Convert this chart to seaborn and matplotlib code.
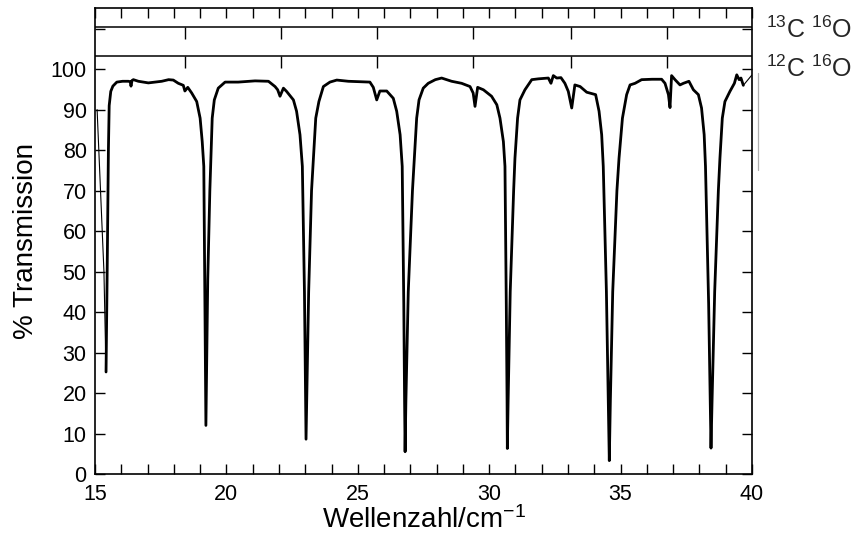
import matplotlib
matplotlib.use("Agg")
import matplotlib.pyplot as plt
import pandas as pd
import seaborn as sns
from matplotlib.ticker import MultipleLocator

# Rotational band of carbon monoxide, far-infrared transmission spectrum
wavenumber = [
    15.42, 15.46, 15.49, 15.51, 15.54, 15.60, 15.68, 15.83, 16.05, 16.27,
    16.34, 16.37, 16.41, 16.46, 16.65, 17.03, 17.30, 17.54, 17.80, 17.98,
    18.17, 18.36, 18.42, 18.53, 18.68, 18.87, 19.00, 19.08,
    19.14, 19.18, 19.21, 19.22, 19.24, 19.29, 19.37, 19.41,
    19.46, 19.54, 19.69, 19.95, 20.45, 21.09, 21.60, 21.85, 21.95, 22.04,
    22.17, 22.29, 22.55, 22.67, 22.80,
    22.89, 22.97, 23.01, 23.03, 23.06, 23.13, 23.24, 23.31,
    23.40, 23.52, 23.69, 23.94, 24.20, 24.64, 25.46, 25.59, 25.72, 25.84,
    26.10, 26.35, 26.48, 26.61,
    26.69, 26.75, 26.78, 26.80, 26.83, 26.92, 27.08, 27.15,
    27.24, 27.33, 27.49, 27.68, 27.95, 28.19, 28.57, 28.95, 29.27, 29.39,
    29.46, 29.56, 29.78, 30.09, 30.29, 30.41, 30.54,
    30.60, 30.65, 30.68, 30.69, 30.72, 30.80, 30.93, 30.98,
    31.08, 31.17, 31.36, 31.62, 31.87, 32.25, 32.35, 32.44, 32.57, 32.73,
    32.88, 33.01, 33.14, 33.26, 33.46, 33.71, 34.05, 34.18, 34.28,
    34.34, 34.46, 34.53, 34.57, 34.61, 34.70, 34.86, 34.94,
    35.07, 35.23, 35.36, 35.55, 35.80, 36.20, 36.56, 36.69, 36.82, 36.88,
    36.94, 37.07, 37.26, 37.39, 37.60, 37.77, 37.96, 38.08, 38.18,
    38.23, 38.35, 38.41, 38.44, 38.48, 38.58, 38.72, 38.78,
    38.87, 38.97, 39.16, 39.33, 39.42, 39.51, 39.58, 39.67,
]
transmission = [
    25.2, 48.0, 68.0, 80.0, 91.0, 94.5, 95.8, 96.8, 97.0, 97.0,
    96.9, 95.8, 97.2, 97.4, 97.0, 96.6, 96.8, 97.0, 97.4, 97.3,
    96.5, 96.0, 94.6, 95.5, 94.1, 92.0, 87.9, 82.1,
    76.0, 45.0, 20.0, 12.0, 22.0, 48.0, 70.0, 78.0,
    87.9, 92.4, 95.3, 96.8, 96.8, 97.1, 97.0, 95.7, 94.9, 93.3,
    95.3, 94.5, 92.4, 89.6, 83.8,
    76.0, 45.0, 20.0, 8.6, 20.0, 45.0, 70.0, 78.0,
    87.9, 92.0, 95.7, 96.8, 97.3, 97.0, 96.8, 95.5, 92.4, 94.6,
    94.6, 92.8, 89.6, 83.8,
    76.0, 42.0, 18.0, 5.5, 18.0, 45.0, 70.0, 78.0,
    87.9, 92.4, 95.3, 96.5, 97.4, 97.8, 97.0, 96.5, 95.7, 94.1,
    90.8, 95.5, 94.9, 93.3, 91.2, 87.9, 82.1,
    76.0, 42.0, 18.0, 6.3, 18.0, 45.0, 70.0, 78.0,
    87.9, 92.4, 94.9, 97.4, 97.6, 97.8, 96.5, 98.4, 97.8, 97.9,
    96.5, 94.5, 90.4, 96.1, 95.7, 94.3, 93.7, 89.6, 83.8,
    76.0, 45.0, 18.0, 3.3, 18.0, 45.0, 70.0, 78.0,
    87.9, 93.7, 96.1, 96.5, 97.4, 97.5, 97.5, 96.5, 93.7, 90.5,
    98.4, 97.4, 96.1, 96.5, 97.0, 94.9, 93.7, 90.4, 83.8,
    76.0, 42.0, 18.0, 6.4, 18.0, 45.0, 70.0, 78.0,
    87.9, 92.0, 94.5, 96.5, 98.6, 97.4, 97.8, 96.0,
]

# faint pen strokes at both ends of the trace
edge_wavenumber = [15.08, 15.34, 15.42]
edge_transmission = [90.0, 50.0, 25.2]
tail_wavenumber = [39.67, 39.99]
tail_transmission = [96.0, 98.5]

# line positions of 13C16O marked on the two reference rulers
marker_positions = [18.42, 22.08, 25.73, 29.38, 33.10, 36.77]
ruler_levels = [110.3, 103.2]
ruler_labels = [r"$\mathregular{^{13}C\ ^{16}O}$", r"$\mathregular{^{12}C\ ^{16}O}$"]
label_levels = [109.8, 100.2]

x_major = [15, 20, 25, 30, 35, 40]
y_ticks = [0, 10, 20, 30, 40, 50, 60, 70, 80, 90, 100, 110]
y_labels = ["0", "10", "20", "30", "40", "50", "60", "70", "80", "90", "100", ""]

sns.set_theme(style="ticks")
plt.rcParams["font.family"] = ["Liberation Sans", "DejaVu Sans"]
plt.rcParams["mathtext.fontset"] = "custom"
plt.rcParams["mathtext.rm"] = "Liberation Sans"
plt.rcParams["mathtext.it"] = "Liberation Sans"

fig = plt.figure(figsize=(8.52, 5.42), dpi=100)
ax = fig.add_axes([95 / 852, 1 - 474 / 542, (752 - 95) / 852, (474 - 8) / 542])

df = pd.DataFrame({"wavenumber": wavenumber, "transmission": transmission})
sns.lineplot(data=df, x="wavenumber", y="transmission", sort=False,
             estimator=None, color="black", linewidth=2.0, ax=ax)
ax.plot(edge_wavenumber, edge_transmission, color="black", linewidth=0.8)
ax.plot(tail_wavenumber, tail_transmission, color="black", linewidth=0.8)
ax.plot([40.22, 40.22], [99.0, 75.0], color="#b0b0b0", linewidth=0.9,
        clip_on=False)

# reference rulers with band positions
for level in ruler_levels:
    ax.hlines(level, 15, 40, colors="black", linewidth=1.1)
    ax.vlines(marker_positions, level - 2.8, level, colors="black",
              linewidth=1.0)
for level, text in zip(label_levels, ruler_labels):
    ax.text(40.53, level, text, ha="left", va="center", fontsize=18,
            clip_on=False)

ax.set_xlim(15, 40)
ax.set_ylim(0, 115.1)
ax.set_xticks(x_major)
ax.set_xticklabels([str(v) for v in x_major])
ax.xaxis.set_minor_locator(MultipleLocator(1))
ax.set_yticks(y_ticks)
ax.set_yticklabels(y_labels)

ax.tick_params(which="both", direction="in", top=True, right=True,
               length=7.5, width=1.0, color="black", labelsize=15.5,
               labelcolor="black")
ax.tick_params(axis="x", which="major", pad=7)
ax.tick_params(axis="y", which="major", pad=6)
for spine in ax.spines.values():
    spine.set_visible(True)
    spine.set_linewidth(1.2)
    spine.set_color("black")

ax.set_xlabel(r"$\mathregular{Wellenzahl/cm^{-1}}$", fontsize=20,
              labelpad=1, color="black")
ax.set_ylabel("% Transmission", fontsize=20, labelpad=8, color="black")

fig.savefig("out.png", dpi=100, facecolor="white")
